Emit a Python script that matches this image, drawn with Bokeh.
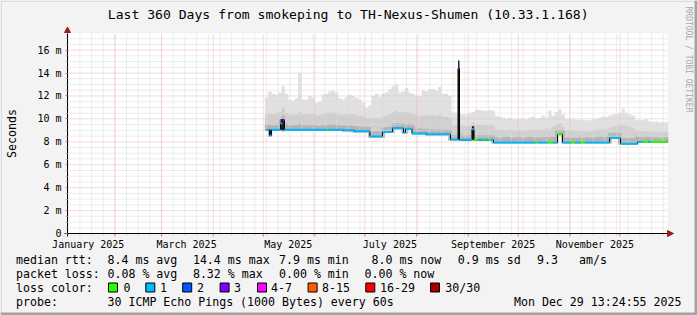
import math
import pandas as pd
from bokeh.plotting import figure
from bokeh.models import (Range1d, FixedTicker, Label, BoxAnnotation, PolyAnnotation,
                          DatetimeAxis, LinearAxis)
from bokeh.embed import file_html
from bokeh.resources import INLINE

# ---------------- data ----------------
title_text = "Last 360 Days from smokeping to TH-Nexus-Shumen (10.33.1.168)"
range_start = "2025-01-03 13:24:55"
range_end = "2025-12-29 13:24:55"
y_max = 17.45

y_ticks = [0, 2, 4, 6, 8, 10, 12, 14, 16]
y_tick_labels = ["0", "2 m", "4 m", "6 m", "8 m", "10 m", "12 m", "14 m", "16 m"]
y_minor = [0.5, 1, 1.5, 2.5, 3, 3.5, 4.5, 5, 5.5, 6.5, 7, 7.5, 8.5, 9, 9.5, 10.5, 11, 11.5,
           12.5, 13, 13.5, 14.5, 15, 15.5, 16.5, 17]

x_label_dates = ["2025-01-16", "2025-03-16", "2025-05-16", "2025-07-16", "2025-09-16", "2025-11-16"]
x_labels = ["January 2025", "March 2025", "May 2025", "July 2025", "September 2025", "November 2025"]
month_grid_dates = ["2025-02-01", "2025-03-01", "2025-04-01", "2025-05-01", "2025-06-01", "2025-07-01",
                    "2025-08-01", "2025-09-01", "2025-10-01", "2025-11-01", "2025-12-01"]
week_grid_first = "2025-01-04"

# smoke, one value per 2-day step starting at smoke_start
smoke_start = "2025-05-02"
smoke_lo = [8.95, 8.45, 8.95, 8.95, 8.95, 8.9, 8.95, 8.95, 8.95, 8.95, 8.95, 8.95, 8.95, 8.95, 8.95,
            8.95, 8.95, 8.95, 8.95, 8.95, 8.95, 8.95, 8.95, 8.9, 8.9, 8.9, 8.82, 8.82, 8.82, 8.82,
            8.82, 8.38, 8.38, 8.38, 8.38, 8.38, 8.77, 8.77, 8.77, 9.1, 9.1, 8.72, 8.72, 9.06, 8.64,
            8.64, 8.64, 8.64, 8.56, 8.56, 8.56, 8.56, 8.56, 8.56, 8.56, 8.12, 8.12, 8.12, 8.08, 8.08,
            8.08, 8.08, 8.08, 8.08, 8.08, 8.08, 8.08, 8.08, 7.86, 7.86, 7.86, 7.86, 7.86, 7.86, 7.86,
            7.86, 7.86, 7.86, 7.86, 7.86, 7.86, 7.86, 7.86, 7.86, 7.86, 7.86, 7.86, 7.86, 8.57, 7.86,
            7.86, 7.86, 7.86, 7.86, 7.86, 7.86, 7.86, 7.86, 7.86, 7.86, 7.86, 7.86, 7.86, 7.86, 8.25,
            8.25, 7.76, 7.76, 7.76, 7.76, 7.76, 7.76, 7.92, 7.92, 7.92, 7.92, 7.92, 7.92, 7.92, 7.92,
            7.92]
smoke_inner = [9.5, 9.5, 9.45, 9.5, 9.9, 10.3, 9.55, 9.45, 9.45, 9.5, 9.6, 9.45, 9.5, 9.45, 9.5,
               9.45, 9.4, 9.5, 9.5, 9.55, 9.5, 9.5, 9.45, 9.45, 9.4, 9.45, 9.4, 9.35, 9.35, 9.3,
               9.3, 9.3, 8.9, 8.95, 8.9, 9.25, 9.3, 9.3, 9.6, 9.65, 9.6, 9.6, 9.55, 9.6, 9.5,
               9.15, 9.2, 9.15, 9.15, 9.1, 9.1, 9.05, 9.1, 9.05, 9.05, 9.0, 8.6, 8.6, 8.7, 8.55,
               8.55, 8.6, 9.4, 8.6, 8.6, 8.55, 8.6, 8.6, 8.55, 8.4, 8.35, 8.4, 8.45, 8.4, 8.35,
               8.4, 8.4, 8.35, 8.4, 8.45, 8.4, 8.4, 8.35, 8.4, 8.45, 8.4, 8.45, 9.0, 9.05, 9.0,
               8.35, 8.4, 8.35, 8.35, 8.4, 8.35, 8.4, 8.4, 8.35, 8.4, 8.45, 8.4, 8.45, 8.75, 8.8,
               8.8, 8.75, 8.3, 8.3, 8.35, 8.3, 8.45, 8.45, 8.4, 8.45, 8.4, 8.4, 8.4, 8.35, 8.4,
               8.4]
smoke_mid = [10.4, 10.5, 10.4, 10.45, 10.6, 11.0, 10.5, 10.4, 10.35, 10.4, 10.6, 10.4, 10.4, 10.5,
             10.45, 10.3, 10.3, 10.45, 10.5, 10.55, 10.6, 10.5, 10.4, 10.35, 10.4, 10.45, 10.4,
             10.35, 10.3, 10.2, 10.0, 10.1, 10.0, 10.1, 10.0, 10.2, 10.3, 10.4, 10.6, 10.7, 10.55,
             10.6, 10.6, 10.55, 10.45, 10.3, 10.25, 10.35, 10.3, 10.35, 10.35, 10.3, 10.4, 10.2,
             10.2, 10.1, 9.4, 9.4, 9.4, 9.35, 9.35, 9.4, 9.7, 9.5, 9.5, 9.45, 9.45, 9.5, 9.4,
             9.1, 9.05, 9.0, 9.0, 9.05, 9.0, 8.95, 9.0, 9.0, 8.95, 9.05, 9.05, 9.0, 9.1, 9.05,
             9.2, 9.1, 9.3, 9.5, 9.6, 9.3, 9.0, 8.95, 9.0, 8.95, 8.95, 8.9, 8.9, 8.95, 9.0, 9.0,
             9.1, 9.1, 9.15, 9.25, 9.35, 9.4, 9.4, 9.5, 9.35, 9.3, 9.2, 9.0, 8.95, 8.9, 8.95,
             8.9, 8.85, 8.9, 8.85, 8.85, 8.85]
smoke_max = [11.85, 12.4, 12.2, 12.1, 12.3, 12.9, 12.2, 11.7, 11.6, 11.8, 14.0, 11.7, 11.7, 12.0,
             11.85, 11.4, 11.5, 12.1, 12.2, 12.4, 12.5, 12.3, 11.8, 11.7, 11.9, 12.1, 12.0, 11.85,
             11.7, 11.4, 10.95, 11.2, 12.0, 12.2, 11.9, 12.2, 12.3, 12.6, 12.9, 13.0, 12.3, 12.4,
             12.7, 12.3, 12.2, 12.0, 12.0, 12.5, 12.4, 12.6, 12.6, 12.5, 12.8, 12.2, 12.2, 12.0,
             10.55, 10.5, 10.45, 10.4, 10.4, 10.5, 10.6, 10.8, 10.8, 10.7, 10.7, 10.8, 10.7, 10.25,
             10.2, 10.1, 10.0, 10.1, 10.0, 9.95, 10.0, 10.0, 9.95, 10.1, 10.2, 10.0, 10.1, 10.3,
             10.1, 10.7, 10.3, 10.6, 10.85, 10.4, 10.0, 9.95, 10.0, 9.9, 9.95, 9.9, 9.85, 9.9,
             9.95, 10.0, 10.1, 10.2, 10.15, 10.3, 10.4, 10.4, 10.5, 10.9, 10.5, 10.4, 10.3, 9.9,
             9.85, 9.9, 10.0, 9.8, 9.75, 9.8, 9.7, 9.7, 9.7]

# median rtt (step segments) with lost pings per segment
seg_start = ["2025-05-02 18:00", "2025-05-04 18:00", "2025-05-06 00:00", "2025-05-11 09:00",
             "2025-05-12 13:00", "2025-05-13 18:00", "2025-06-08 06:00", "2025-06-08 21:00",
             "2025-06-18 04:00", "2025-06-24 18:00", "2025-07-04 01:00", "2025-07-11 13:00",
             "2025-07-17 13:00", "2025-07-24 04:00", "2025-07-25 09:00", "2025-07-29 06:00",
             "2025-08-06 23:00", "2025-08-21 09:00", "2025-08-25 21:00", "2025-08-26 18:00",
             "2025-09-03 06:00", "2025-09-04 11:00", "2025-09-06 21:00", "2025-09-09 13:00",
             "2025-09-10 18:00", "2025-09-13 04:00", "2025-09-14 16:00", "2025-09-16 04:00",
             "2025-10-11 09:00", "2025-10-13 04:00", "2025-10-18 13:00", "2025-10-22 04:00",
             "2025-10-24 13:00", "2025-10-27 13:00", "2025-11-01 09:00", "2025-11-04 09:00",
             "2025-11-07 09:00", "2025-11-10 09:00", "2025-11-24 18:00", "2025-12-01 09:00",
             "2025-12-11 13:00", "2025-12-12 04:00", "2025-12-14 13:00", "2025-12-18 04:00",
             "2025-12-19 09:00"]
seg_median = [9.05, 8.55, 9.05, 9.6, 9.85, 9.05, 9.05, 9.05, 9.0, 8.92, 8.47, 8.86, 9.19, 8.8,
              9.15, 8.73, 8.65, 8.2, 14.4, 8.17, 9.1, 8.17, 8.17, 8.17, 8.17, 8.17, 8.17, 7.94,
              7.94, 7.94, 7.94, 7.94, 8.66, 7.94, 7.94, 7.94, 7.94, 7.94, 8.34, 7.84, 8.0, 8.0,
              8.0, 8.0, 8.0]
seg_loss = [1, 1, 1, 1, 3, 1, 0, 1, 1, 1, 1, 1, 1, 1, 1, 1, 1, 1, 3, 1, 1, 0, 1, 0, 1, 0, 1, 1,
            0, 1, 0, 1, 0, 1, 0, 1, 0, 1, 1, 1, 0, 1, 0, 1, 0]

# dense (dark) smoke columns
spike_start = ["2025-05-04 18:00", "2025-05-11 09:00", "2025-08-25 21:00", "2025-09-03 06:00"]
spike_end = ["2025-05-06 00:00", "2025-05-13 18:00", "2025-08-26 18:00", "2025-09-04 11:00"]
spike_lo = [8.5, 9.0, 8.2, 8.17]
spike_hi = [9.05, 10.0, 15.1, 9.35]

loss_labels = ["0", "1", "2", "3", "4-7", "8-15", "16-29", "30/30"]
loss_colors = ["#26ff00", "#00b8ff", "#0059ff", "#7e00ff", "#ff00ff", "#ff5e00", "#ff0000", "#a10000"]

rtt_stats = ["8.4 ms avg", "14.4 ms max", "7.9 ms min", "8.0 ms now", "0.9 ms sd", "9.3", "am/s"]
loss_stats = ["0.08 % avg", "8.32 % max", "0.00 % min", "0.00 % now"]
probe_text = "30 ICMP Echo Pings (1000 Bytes) every 60s"
stamp_text = "Mon Dec 29 13:24:55 2025"
watermark = "RRDTOOL / TOBI OETIKER"
y_axis_label = "Seconds"

# ---------------- layout ----------------
W, H = 697, 315
FL, FR, FT, FB = 67, 667, 33, 233          # plot area in canvas pixels
MONO = "DejaVu Sans Mono"
BG = "#f3f3f3"


def ms(s):
    return pd.Timestamp(s).value / 1e6


t0, t1 = ms(range_start), ms(range_end)


def X(px):
    return t0 + (px - FL) / (FR - FL) * (t1 - t0)


def Y(py):
    return (FB - py) / (FB - FT) * y_max


def bucket(n):
    if n <= 3:
        return n
    if n <= 7:
        return 4
    if n <= 15:
        return 5
    if n <= 29:
        return 6
    return 7


# the frame covers the whole canvas; axes are pinned at the plot area's edges
p = figure(width=W, height=H, x_range=Range1d(X(0), X(W)), y_range=Range1d(Y(H), Y(0)),
           x_axis_location=None, y_axis_location=None, output_backend="svg",
           toolbar_location=None, title=None, min_border=0, background_fill_color=BG,
           border_fill_color=BG, outline_line_color=None)
p.grid.visible = False

# plot canvas
p.quad(left=[t0], right=[t1], bottom=[0], top=[y_max], fill_color="#ffffff", line_color=None)

# smoke
sx = list(pd.date_range(smoke_start, periods=len(smoke_max) + 1, freq="2D"))
lo = smoke_lo + [smoke_lo[-1]]
for top, col in ((smoke_max, "#e1e1e1"), (smoke_mid, "#d0d0d0"), (smoke_inner, "#b4b4b4")):
    p.varea_step(x=sx, y1=lo, y2=top + [top[-1]], step_mode="after", fill_color=col)

# grid
week_ticks = [ms(d) for d in pd.date_range(week_grid_first, range_end, freq="7D")]
month_ticks = [ms(d) for d in month_grid_dates]
GRID_MINOR = "#dadada"
GRID_MAJOR = "#f2b4b4"
p.segment(x0=week_ticks, x1=week_ticks, y0=0, y1=y_max, line_color=GRID_MINOR, line_dash="1 1")
p.segment(x0=t0, x1=t1, y0=y_minor, y1=y_minor, line_color=GRID_MINOR, line_dash="1 1")
p.segment(x0=month_ticks, x1=month_ticks, y0=0, y1=y_max, line_color=GRID_MAJOR, line_dash="1 1")
p.segment(x0=t0, x1=t1, y0=y_ticks[1:], y1=y_ticks[1:], line_color=GRID_MAJOR, line_dash="1 1")
# tick marks hanging below the time axis
p.segment(x0=week_ticks, x1=week_ticks, y0=0, y1=Y(FB + 2), line_color="#c4c4c4")
p.segment(x0=month_ticks, x1=month_ticks, y0=0, y1=Y(FB + 3), line_color="#e07070")

# dense smoke columns
p.quad(left=pd.to_datetime(spike_start), right=pd.to_datetime(spike_end), bottom=spike_lo,
       top=spike_hi, fill_color="#1e1e1e", line_color=None)

# median line
x0 = list(pd.to_datetime(seg_start))
x1 = x0[1:] + [pd.Timestamp(range_end)]
p.step(x=x0 + [pd.Timestamp(range_end)], y=seg_median + [seg_median[-1]], mode="after",
       line_color="black", line_width=1)
p.segment(x0=x0, y0=seg_median, x1=x1, y1=seg_median,
          line_color=[loss_colors[bucket(n)] for n in seg_loss], line_width=2)

# axes
label_ticks = [ms(d) for d in x_label_dates]
xa = DatetimeAxis(fixed_location=0, bounds=(X(FL - 3), t1),
                  ticker=FixedTicker(ticks=label_ticks, minor_ticks=[]))
xa.major_label_overrides = {t: s for t, s in zip(label_ticks, x_labels)}
ya = LinearAxis(fixed_location=t0, bounds=(Y(FB + 3), y_max),
                ticker=FixedTicker(ticks=y_ticks, minor_ticks=y_minor))
ya.major_label_overrides = {t: s for t, s in zip(y_ticks, y_tick_labels)}
for ax in (xa, ya):
    ax.axis_line_color = "black"
    ax.major_label_text_font = MONO
    ax.major_label_text_font_size = "10px"
    ax.major_label_text_color = "black"
xa.major_tick_line_color = None
xa.minor_tick_line_color = None
xa.major_label_standoff = -1
ya.major_tick_out = 2
ya.major_tick_in = 0
ya.major_tick_line_color = "#e07070"
ya.minor_tick_out = 2
ya.minor_tick_in = 0
ya.minor_tick_line_color = "#c4c4c4"
ya.major_label_standoff = 4
p.add_layout(xa, "below")
p.add_layout(ya, "left")

# arrows
ARROW = "#9e1f1f"
p.add_layout(PolyAnnotation(xs=[X(64), X(70), X(67)], ys=[Y(32), Y(32), Y(26.5)],
                            fill_color=ARROW, fill_alpha=1, line_color=ARROW, line_alpha=1))
p.add_layout(PolyAnnotation(xs=[X(667), X(667), X(673)], ys=[Y(230), Y(236), Y(233)],
                            fill_color=ARROW, fill_alpha=1, line_color=ARROW, line_alpha=1))

# frame shading
for l, r, t, b, c in ((0, 697, 0, 1.5, "#dcdcdc"), (0, 1.5, 0, 315, "#dcdcdc"),
                      (694, 697, 0, 315, "#a3a3a3"), (0, 697, 312, 315, "#a3a3a3")):
    p.add_layout(BoxAnnotation(left=X(l), right=X(r), top=Y(t), bottom=Y(b), fill_color=c,
                               fill_alpha=1, line_color=None))


def txt(px, py, s, size="11.6px", align="left", color="black", angle=0.0, baseline="middle"):
    p.add_layout(Label(x=X(px), y=Y(py), text=s, text_font=MONO, text_font_size=size,
                       text_align=align, text_baseline=baseline, text_color=color, angle=angle))


txt(347.7, 14, title_text, size="13.1px", align="center")
txt(11, 133, y_axis_label, align="center", angle=math.pi / 2)
txt(688, 6, watermark, size="8px", align="left", color="#a8a8a8", angle=-math.pi / 2)

ROW = [259, 273, 287, 301]
txt(15.5, ROW[0], "median rtt:")
for xx, s in zip([107, 192.4, 278.5, 371, 457.3, 536.5, 578.5], rtt_stats):
    txt(xx, ROW[0], s)
txt(15.5, ROW[1], "packet loss:")
for xx, s in zip([107, 192.4, 278.5, 364], loss_stats):
    txt(xx, ROW[1], s)
txt(15.5, ROW[2], "loss color:")
box_x = [108, 145.3, 182.2, 219.6, 257, 307.6, 365.3, 430]
lab_x = [123, 159.5, 196.5, 233.5, 270.5, 321.5, 379.5, 444.8]
for bx, lx, s, c in zip(box_x, lab_x, loss_labels, loss_colors):
    p.add_layout(BoxAnnotation(left=X(bx), right=X(bx + 9), top=Y(282.5), bottom=Y(291.5),
                               fill_color=c, fill_alpha=1, line_color="black", line_alpha=1,
                               line_width=1))
    txt(lx, ROW[2], s)
txt(15.5, ROW[3], "probe:")
txt(107, ROW[3], probe_text)
txt(681, ROW[3], stamp_text, align="right")

open("out.html", "w").write(file_html(p, INLINE))
